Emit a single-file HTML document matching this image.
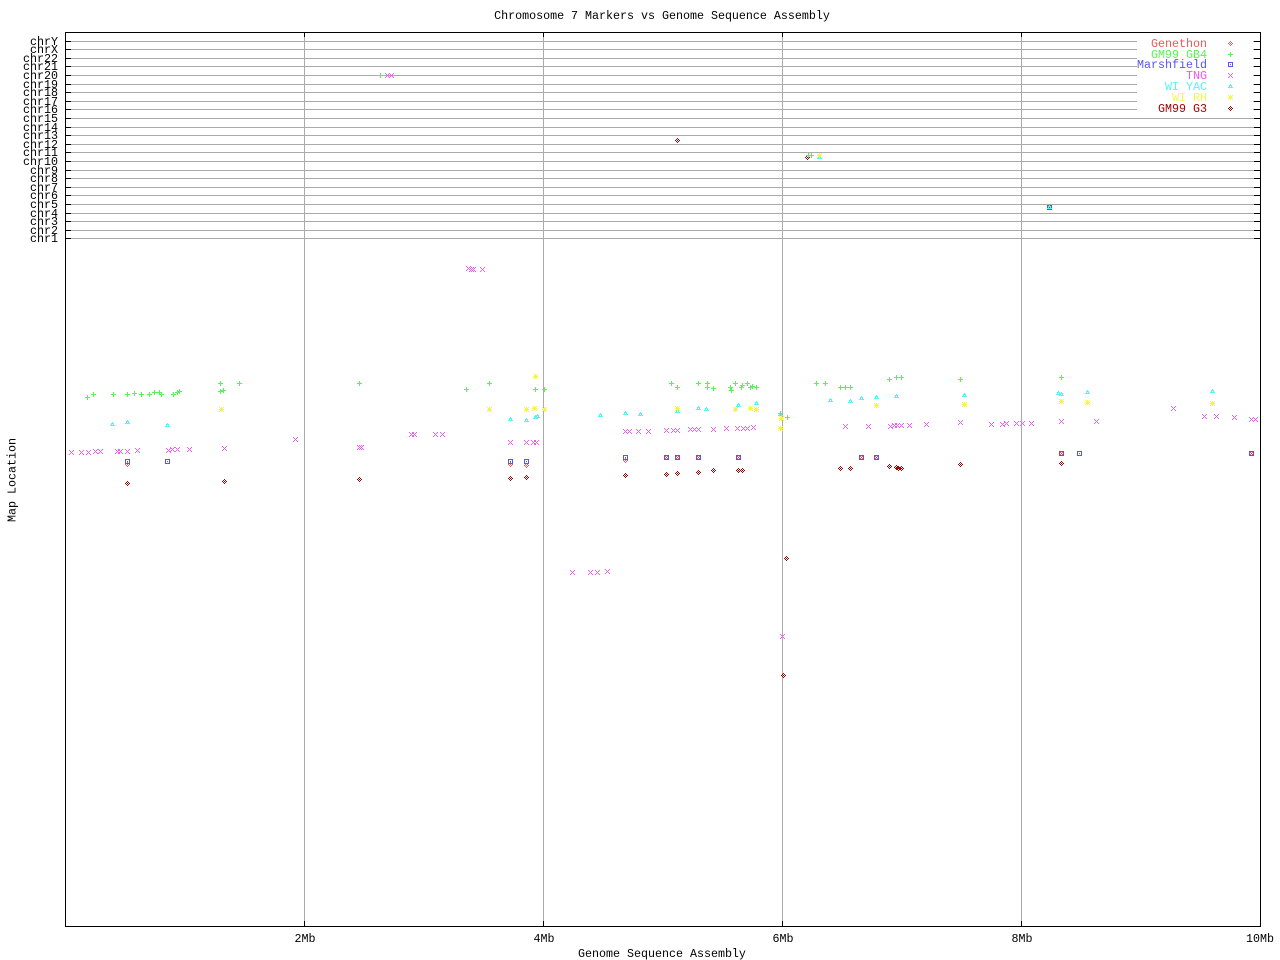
<!DOCTYPE html>
<html><head><meta charset="utf-8"><style>
html,body{margin:0;padding:0;background:#fff;}
svg{display:block;}
text{font-family:"Liberation Mono",monospace;font-size:11.67px;}
</style></head><body>
<svg width="1280" height="960" viewBox="0 0 1280 960" xmlns="http://www.w3.org/2000/svg" shape-rendering="crispEdges">
<defs>
<path id="pl" d="M-2 0h5v1h-5z M0 -2h1v5h-1z"/>
<path id="cr" d="M-2 -2h1v1h-1z M2 -2h1v1h-1z M-1 -1h1v1h-1z M1 -1h1v1h-1z M0 0h1v1h-1z M-1 1h1v1h-1z M1 1h1v1h-1z M-2 2h1v1h-1z M2 2h1v1h-1z"/>
<path id="dm" d="M0 -2h1v1h-1z M-1 -1h1v1h-1z M1 -1h1v1h-1z M-2 0h1v1h-1z M0 0h1v1h-1z M2 0h1v1h-1z M-1 1h1v1h-1z M1 1h1v1h-1z M0 2h1v1h-1z"/>
<path id="sq" d="M-2 -2h5v1h-5z M-2 2h5v1h-5z M-2 -1h1v3h-1z M2 -1h1v3h-1z M0 0h1v1h-1z"/>
<path id="tr" d="M0 -2h1v1h-1z M-1 -1h3v1h-3z M-1 0h1v1h-1z M1 0h1v1h-1z M-2 1h5v1h-5z"/>
<path id="st" d="M-2 -2h1v1h-1z M0 -2h1v1h-1z M2 -2h1v1h-1z M-1 -1h3v3h-3z M-2 0h1v1h-1z M2 0h1v1h-1z M-2 2h1v1h-1z M0 2h1v1h-1z M2 2h1v1h-1z"/>
</defs>
<rect x="0" y="0" width="1280" height="960" fill="#fff"/>

<!-- chr lines -->
<g fill="#aaaaaa">
<rect x="65" y="41" width="1195" height="1"/>
<rect x="65" y="49" width="1195" height="1"/>
<rect x="65" y="58" width="1195" height="1"/>
<rect x="65" y="66" width="1195" height="1"/>
<rect x="65" y="75" width="1195" height="1"/>
<rect x="65" y="84" width="1195" height="1"/>
<rect x="65" y="92" width="1195" height="1"/>
<rect x="65" y="101" width="1195" height="1"/>
<rect x="65" y="109" width="1195" height="1"/>
<rect x="65" y="118" width="1195" height="1"/>
<rect x="65" y="127" width="1195" height="1"/>
<rect x="65" y="135" width="1195" height="1"/>
<rect x="65" y="144" width="1195" height="1"/>
<rect x="65" y="152" width="1195" height="1"/>
<rect x="65" y="161" width="1195" height="1"/>
<rect x="65" y="170" width="1195" height="1"/>
<rect x="65" y="178" width="1195" height="1"/>
<rect x="65" y="187" width="1195" height="1"/>
<rect x="65" y="195" width="1195" height="1"/>
<rect x="65" y="204" width="1195" height="1"/>
<rect x="65" y="213" width="1195" height="1"/>
<rect x="65" y="221" width="1195" height="1"/>
<rect x="65" y="230" width="1195" height="1"/>
<rect x="65" y="238" width="1195" height="1"/>
<!-- vertical grid -->
<rect x="304" y="32" width="1" height="894"/>
<rect x="543" y="32" width="1" height="894"/>
<rect x="782" y="32" width="1" height="894"/>
<rect x="1021" y="32" width="1" height="894"/>
</g>

<!-- legend background -->
<rect x="1137" y="34" width="116" height="80" fill="#fff"/>

<!-- frame and ticks -->
<g fill="#000">
<rect x="65" y="32" width="1196" height="1"/>
<rect x="65" y="926" width="1196" height="1"/>
<rect x="65" y="32" width="1" height="895"/>
<rect x="1260" y="32" width="1" height="895"/>
<rect x="304" y="32" width="1" height="5"/><rect x="543" y="32" width="1" height="5"/><rect x="782" y="32" width="1" height="5"/><rect x="1021" y="32" width="1" height="5"/>
<rect x="304" y="921" width="1" height="5"/><rect x="543" y="921" width="1" height="5"/><rect x="782" y="921" width="1" height="5"/><rect x="1021" y="921" width="1" height="5"/>
<rect x="65" y="41" width="6" height="1"/><rect x="1254" y="41" width="6" height="1"/>
<rect x="65" y="49" width="6" height="1"/><rect x="1254" y="49" width="6" height="1"/>
<rect x="65" y="58" width="6" height="1"/><rect x="1254" y="58" width="6" height="1"/>
<rect x="65" y="66" width="6" height="1"/><rect x="1254" y="66" width="6" height="1"/>
<rect x="65" y="75" width="6" height="1"/><rect x="1254" y="75" width="6" height="1"/>
<rect x="65" y="84" width="6" height="1"/><rect x="1254" y="84" width="6" height="1"/>
<rect x="65" y="92" width="6" height="1"/><rect x="1254" y="92" width="6" height="1"/>
<rect x="65" y="101" width="6" height="1"/><rect x="1254" y="101" width="6" height="1"/>
<rect x="65" y="109" width="6" height="1"/><rect x="1254" y="109" width="6" height="1"/>
<rect x="65" y="118" width="6" height="1"/><rect x="1254" y="118" width="6" height="1"/>
<rect x="65" y="127" width="6" height="1"/><rect x="1254" y="127" width="6" height="1"/>
<rect x="65" y="135" width="6" height="1"/><rect x="1254" y="135" width="6" height="1"/>
<rect x="65" y="144" width="6" height="1"/><rect x="1254" y="144" width="6" height="1"/>
<rect x="65" y="152" width="6" height="1"/><rect x="1254" y="152" width="6" height="1"/>
<rect x="65" y="161" width="6" height="1"/><rect x="1254" y="161" width="6" height="1"/>
<rect x="65" y="170" width="6" height="1"/><rect x="1254" y="170" width="6" height="1"/>
<rect x="65" y="178" width="6" height="1"/><rect x="1254" y="178" width="6" height="1"/>
<rect x="65" y="187" width="6" height="1"/><rect x="1254" y="187" width="6" height="1"/>
<rect x="65" y="195" width="6" height="1"/><rect x="1254" y="195" width="6" height="1"/>
<rect x="65" y="204" width="6" height="1"/><rect x="1254" y="204" width="6" height="1"/>
<rect x="65" y="213" width="6" height="1"/><rect x="1254" y="213" width="6" height="1"/>
<rect x="65" y="221" width="6" height="1"/><rect x="1254" y="221" width="6" height="1"/>
<rect x="65" y="230" width="6" height="1"/><rect x="1254" y="230" width="6" height="1"/>
<rect x="65" y="238" width="6" height="1"/><rect x="1254" y="238" width="6" height="1"/>
</g>

<!-- texts -->
<g fill="#000">
<text x="662" y="19" text-anchor="middle">Chromosome 7 Markers vs Genome Sequence Assembly</text>
<g text-anchor="end">
<text x="58" y="45">chrY</text>
<text x="58" y="53">chrX</text>
<text x="58" y="62">chr22</text>
<text x="58" y="70">chr21</text>
<text x="58" y="79">chr20</text>
<text x="58" y="88">chr19</text>
<text x="58" y="96">chr18</text>
<text x="58" y="105">chr17</text>
<text x="58" y="113">chr16</text>
<text x="58" y="122">chr15</text>
<text x="58" y="131">chr14</text>
<text x="58" y="139">chr13</text>
<text x="58" y="148">chr12</text>
<text x="58" y="156">chr11</text>
<text x="58" y="165">chr10</text>
<text x="58" y="174">chr9</text>
<text x="58" y="182">chr8</text>
<text x="58" y="191">chr7</text>
<text x="58" y="199">chr6</text>
<text x="58" y="208">chr5</text>
<text x="58" y="217">chr4</text>
<text x="58" y="225">chr3</text>
<text x="58" y="234">chr2</text>
<text x="58" y="242">chr1</text>
</g>
<g text-anchor="middle">
<text x="305" y="942">2Mb</text>
<text x="544" y="942">4Mb</text>
<text x="783" y="942">6Mb</text>
<text x="1022" y="942">8Mb</text>
<text x="1260" y="942">10Mb</text>
<text x="662" y="957">Genome Sequence Assembly</text>
<text x="0" y="0" transform="translate(15.5,480) rotate(-90)">Map Location</text>
</g>
</g>

<!-- legend -->
<g text-anchor="end">
<text x="1207" y="47" fill="#f55555">Genethon</text>
<text x="1207" y="58" fill="#55f555">GM99 GB4</text>
<text x="1207" y="68" fill="#5555f5">Marshfield</text>
<text x="1207" y="79" fill="#f555f5">TNG</text>
<text x="1207" y="90" fill="#55f5f5">WI YAC</text>
<text x="1207" y="101" fill="#f5f555">WI RH</text>
<text x="1207" y="112" fill="#a00000">GM99 G3</text>
</g>
<use href="#dm" x="1230" y="43" fill="#f55555"/>
<use href="#pl" x="1230" y="54" fill="#55f555"/>
<use href="#sq" x="1230" y="64" fill="#5555f5"/>
<use href="#cr" x="1230" y="75" fill="#f555f5"/>
<use href="#tr" x="1230" y="86" fill="#55f5f5"/>
<use href="#st" x="1230" y="97" fill="#f5f555"/>
<use href="#dm" x="1230" y="108" fill="#a00000"/>

<!-- GM99 G3 dark red diamonds -->
<g fill="#a00000">
<use href="#dm" x="127" y="483"/><use href="#dm" x="224" y="481"/><use href="#dm" x="359" y="479"/>
<use href="#dm" x="510" y="478"/><use href="#dm" x="526" y="477"/><use href="#dm" x="625" y="475"/>
<use href="#dm" x="666" y="474"/><use href="#dm" x="677" y="473"/><use href="#dm" x="698" y="472"/>
<use href="#dm" x="713" y="470"/><use href="#dm" x="738" y="470"/><use href="#dm" x="742" y="470"/>
<use href="#dm" x="840" y="468"/><use href="#dm" x="850" y="468"/><use href="#dm" x="889" y="466"/>
<use href="#dm" x="896" y="467"/><use href="#dm" x="898" y="468"/><use href="#dm" x="901" y="468"/>
<use href="#dm" x="960" y="464"/><use href="#dm" x="1061" y="463"/><use href="#dm" x="677" y="140"/>
<use href="#dm" x="807" y="157"/><use href="#dm" x="786" y="558"/><use href="#dm" x="783" y="675"/>
</g>

<!-- Genethon light red diamonds -->
<g fill="#f55555">
<use href="#dm" x="127" y="464"/><use href="#dm" x="510" y="464"/><use href="#dm" x="526" y="465"/>
<use href="#dm" x="625" y="460"/><use href="#dm" x="666" y="457"/><use href="#dm" x="677" y="457"/>
<use href="#dm" x="698" y="457"/><use href="#dm" x="738" y="457"/><use href="#dm" x="861" y="457"/>
<use href="#dm" x="876" y="457"/><use href="#dm" x="1061" y="453"/><use href="#dm" x="1251" y="453"/>
</g>

<!-- Marshfield blue squares -->
<g fill="#5555f5">
<use href="#sq" x="127" y="461"/><use href="#sq" x="167" y="461"/><use href="#sq" x="510" y="461"/>
<use href="#sq" x="526" y="461"/><use href="#sq" x="625" y="457"/><use href="#sq" x="666" y="457"/>
<use href="#sq" x="677" y="457"/><use href="#sq" x="698" y="457"/><use href="#sq" x="738" y="457"/>
<use href="#sq" x="861" y="457"/><use href="#sq" x="876" y="457"/><use href="#sq" x="1061" y="453"/>
<use href="#sq" x="1079" y="453"/><use href="#sq" x="1251" y="453"/><use href="#sq" x="1049" y="207"/>
</g>

<!-- WI YAC cyan triangles -->
<g fill="#55f5f5">
<use href="#tr" x="112" y="424"/><use href="#tr" x="127" y="422"/><use href="#tr" x="167" y="425"/>
<use href="#tr" x="510" y="419"/><use href="#tr" x="526" y="420"/><use href="#tr" x="535" y="417"/>
<use href="#tr" x="537" y="416"/><use href="#tr" x="600" y="415"/><use href="#tr" x="625" y="413"/>
<use href="#tr" x="640" y="414"/><use href="#tr" x="677" y="411"/><use href="#tr" x="698" y="408"/>
<use href="#tr" x="706" y="409"/><use href="#tr" x="738" y="405"/><use href="#tr" x="756" y="403"/>
<use href="#tr" x="830" y="400"/><use href="#tr" x="850" y="401"/><use href="#tr" x="861" y="398"/>
<use href="#tr" x="876" y="397"/><use href="#tr" x="896" y="396"/><use href="#tr" x="964" y="395"/>
<use href="#tr" x="1058" y="393"/><use href="#tr" x="1061" y="394"/><use href="#tr" x="1087" y="392"/>
<use href="#tr" x="1212" y="391"/><use href="#tr" x="819" y="157"/><use href="#tr" x="1049" y="207"/>
<use href="#tr" x="780" y="414"/>
</g>

<!-- WI RH yellow stars -->
<g fill="#f5f545">
<use href="#st" x="221" y="409"/><use href="#st" x="535" y="376"/><use href="#st" x="489" y="409"/>
<use href="#st" x="526" y="409"/><use href="#st" x="534" y="408"/><use href="#st" x="544" y="409"/>
<use href="#st" x="677" y="408"/><use href="#st" x="735" y="409"/><use href="#st" x="750" y="408"/>
<use href="#st" x="756" y="409"/><use href="#st" x="781" y="418"/><use href="#st" x="780" y="428"/>
<use href="#st" x="876" y="405"/><use href="#st" x="964" y="404"/><use href="#st" x="1061" y="401"/>
<use href="#st" x="1087" y="402"/><use href="#st" x="1212" y="403"/><use href="#st" x="819" y="155"/>
</g>

<!-- GM99 GB4 green plus -->
<g fill="#55f555">
<use href="#pl" x="87" y="397"/><use href="#pl" x="93" y="394"/><use href="#pl" x="113" y="394"/>
<use href="#pl" x="127" y="394"/><use href="#pl" x="134" y="393"/><use href="#pl" x="141" y="394"/>
<use href="#pl" x="149" y="394"/><use href="#pl" x="154" y="392"/><use href="#pl" x="159" y="392"/>
<use href="#pl" x="161" y="394"/><use href="#pl" x="173" y="394"/><use href="#pl" x="177" y="392"/>
<use href="#pl" x="179" y="391"/><use href="#pl" x="220" y="383"/><use href="#pl" x="239" y="383"/>
<use href="#pl" x="220" y="391"/><use href="#pl" x="223" y="390"/><use href="#pl" x="359" y="383"/>
<use href="#pl" x="466" y="389"/><use href="#pl" x="489" y="383"/><use href="#pl" x="535" y="389"/>
<use href="#pl" x="544" y="389"/><use href="#pl" x="671" y="383"/><use href="#pl" x="677" y="387"/>
<use href="#pl" x="698" y="383"/><use href="#pl" x="707" y="383"/><use href="#pl" x="707" y="387"/>
<use href="#pl" x="713" y="388"/><use href="#pl" x="730" y="387"/><use href="#pl" x="731" y="390"/>
<use href="#pl" x="735" y="383"/><use href="#pl" x="741" y="387"/><use href="#pl" x="742" y="385"/>
<use href="#pl" x="747" y="383"/><use href="#pl" x="750" y="387"/><use href="#pl" x="752" y="386"/>
<use href="#pl" x="756" y="387"/><use href="#pl" x="780" y="413"/><use href="#pl" x="787" y="417"/>
<use href="#pl" x="816" y="383"/><use href="#pl" x="825" y="383"/><use href="#pl" x="840" y="387"/>
<use href="#pl" x="845" y="387"/><use href="#pl" x="850" y="387"/><use href="#pl" x="889" y="379"/>
<use href="#pl" x="896" y="377"/><use href="#pl" x="901" y="377"/><use href="#pl" x="960" y="379"/>
<use href="#pl" x="1061" y="377"/><use href="#pl" x="380" y="75"/><use href="#pl" x="808" y="155"/>
<use href="#pl" x="811" y="155"/>
</g>

<!-- TNG magenta crosses -->
<g fill="#f555f5">
<use href="#cr" x="71" y="452"/><use href="#cr" x="81" y="452"/><use href="#cr" x="88" y="452"/>
<use href="#cr" x="95" y="451"/><use href="#cr" x="100" y="451"/><use href="#cr" x="117" y="451"/>
<use href="#cr" x="120" y="451"/><use href="#cr" x="127" y="451"/><use href="#cr" x="137" y="450"/>
<use href="#cr" x="168" y="450"/><use href="#cr" x="172" y="449"/><use href="#cr" x="177" y="449"/>
<use href="#cr" x="189" y="449"/><use href="#cr" x="224" y="448"/><use href="#cr" x="295" y="439"/>
<use href="#cr" x="387" y="75"/><use href="#cr" x="391" y="75"/><use href="#cr" x="468" y="268"/>
<use href="#cr" x="471" y="269"/><use href="#cr" x="473" y="269"/><use href="#cr" x="482" y="269"/>
<use href="#cr" x="411" y="434"/><use href="#cr" x="414" y="434"/><use href="#cr" x="435" y="434"/>
<use href="#cr" x="442" y="434"/><use href="#cr" x="359" y="447"/><use href="#cr" x="361" y="447"/>
<use href="#cr" x="510" y="442"/><use href="#cr" x="526" y="442"/><use href="#cr" x="533" y="442"/>
<use href="#cr" x="536" y="442"/><use href="#cr" x="625" y="431"/><use href="#cr" x="629" y="431"/>
<use href="#cr" x="638" y="431"/><use href="#cr" x="648" y="431"/><use href="#cr" x="666" y="430"/>
<use href="#cr" x="673" y="430"/><use href="#cr" x="677" y="430"/><use href="#cr" x="690" y="429"/>
<use href="#cr" x="694" y="429"/><use href="#cr" x="698" y="429"/><use href="#cr" x="713" y="429"/>
<use href="#cr" x="726" y="428"/><use href="#cr" x="737" y="428"/><use href="#cr" x="743" y="428"/>
<use href="#cr" x="747" y="428"/><use href="#cr" x="753" y="427"/><use href="#cr" x="845" y="426"/>
<use href="#cr" x="868" y="426"/><use href="#cr" x="890" y="426"/><use href="#cr" x="894" y="425"/>
<use href="#cr" x="897" y="425"/><use href="#cr" x="901" y="425"/><use href="#cr" x="909" y="425"/>
<use href="#cr" x="926" y="424"/><use href="#cr" x="960" y="422"/><use href="#cr" x="991" y="424"/>
<use href="#cr" x="1002" y="424"/><use href="#cr" x="1006" y="423"/><use href="#cr" x="1016" y="423"/>
<use href="#cr" x="1022" y="423"/><use href="#cr" x="1031" y="423"/><use href="#cr" x="1061" y="421"/>
<use href="#cr" x="1096" y="421"/><use href="#cr" x="1173" y="408"/><use href="#cr" x="1204" y="416"/>
<use href="#cr" x="1216" y="416"/><use href="#cr" x="1234" y="417"/><use href="#cr" x="1251" y="419"/>
<use href="#cr" x="1255" y="419"/><use href="#cr" x="572" y="572"/><use href="#cr" x="590" y="572"/>
<use href="#cr" x="597" y="572"/><use href="#cr" x="607" y="571"/><use href="#cr" x="782" y="636"/>
</g>
</svg>
</body></html>
